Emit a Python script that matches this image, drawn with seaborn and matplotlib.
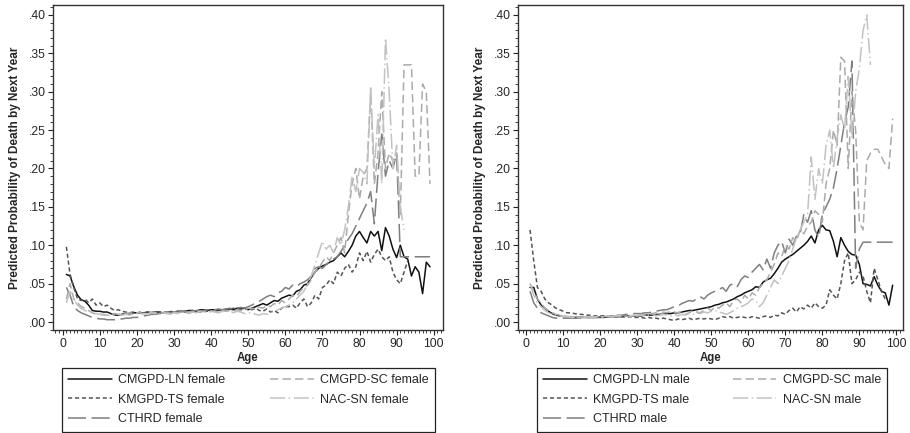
import numpy as np
import pandas as pd
import seaborn as sns
import matplotlib.pyplot as plt
from matplotlib.ticker import MultipleLocator, FuncFormatter

# predicted probability of death by next year, age 1 onward
ln_female = [.062, .060, .046, .035, .029, .027, .022, .015, .014, .014,
             .013, .013, .011, .009, .009, .010, .011, .010, .012, .012,
             .012, .012, .013, .012, .013, .013, .012, .013, .013, .013,
             .014, .014, .014, .015, .015, .014, .016, .016, .015, .016,
             .016, .015, .016, .016, .017, .016, .018, .017, .018, .016,
             .018, .020, .022, .024, .022, .025, .028, .027, .031, .033,
             .035, .034, .040, .042, .048, .050, .058, .065, .070, .073,
             .075, .078, .080, .085, .090, .085, .092, .100, .112, .118,
             .110, .103, .118, .112, .118, .093, .123, .112, .095, .084,
             .100, .085, .082, .060, .072, .065, .037, .078, .072]
ts_female = [.098, .062, .045, .030, .028, .030, .025, .030, .022, .025,
             .020, .022, .018, .015, .016, .014, .013, .012, .013, .012,
             .013, .012, .013, .012, .014, .013, .012, .013, .014, .013,
             .012, .014, .013, .014, .015, .014, .013, .015, .014, .015,
             .014, .016, .015, .017, .016, .018, .017, .016, .018, .017,
             .016, .018, .015, .014, .017, .013, .015, .012, .018, .020,
             .020, .022, .018, .025, .030, .020, .025, .035, .030, .045,
             .048, .055, .050, .065, .060, .070, .075, .065, .072, .090,
             .080, .092, .078, .088, .095, .085, .080, .085, .065, .055,
             .050, .065, .080]
cthrd_female = [.045, .035, .020, .015, .012, .010, .008, .006, .005, .004,
                .004, .003, .003, .003, .004, .004, .005, .005, .006, .006,
                .007, .008, .009, .010, .010, .011, .012, .012, .012, .013,
                .013, .013, .014, .014, .014, .015, .015, .015, .016, .016,
                .016, .017, .016, .017, .018, .017, .018, .019, .018, .020,
                .022, .025, .027, .030, .033, .035, .033, .038, .040, .045,
                .043, .048, .046, .050, .052, .055, .060, .070, .072, .070,
                .075, .078, .082, .085, .092, .100, .108, .115, .125, .135,
                .145, .155, .170, .128, .195, .245, .190, .210, .200, .220,
                .085, .085, .085, .085, .085, .085, .085, .085, .085]
sc_female = [.030, .050, .030, .025, .020, .018, .015, .012, .010, .010,
             .010, .009, .010, .011, .010, .011, .011, .012, .011, .012,
             .012, .011, .012, .013, .012, .013, .012, .013, .012, .013,
             .012, .013, .014, .012, .013, .014, .013, .014, .013, .014,
             .014, .013, .015, .014, .015, .014, .016, .015, .016, .018,
             .017, .020, .019, .018, .022, .020, .024, .022, .028, .025,
             .030, .035, .033, .040, .045, .048, .055, .065, .070, .078,
             .085, .080, .090, .100, .110, .090, .140, .180, .200, .160,
             .190, .200, .300, .180, .220, .300, .200, .220, .210, .220,
             .140, .335, .335, .335, .190, .190, .310, .300, .180]
nac_female = [.025, .040, .030, .022, .018, .015, .013, .012, .011, .010,
              .009, .009, .008, .009, .010, .009, .010, .009, .010, .011,
              .010, .011, .010, .012, .011, .010, .012, .011, .010, .012,
              .011, .013, .012, .011, .013, .012, .014, .013, .012, .014,
              .013, .012, .014, .013, .015, .012, .014, .013, .011, .012,
              .012, .010, .009, .011, .010, .012, .014, .016, .018, .020,
              .022, .025, .030, .035, .040, .050, .060, .075, .090, .105,
              .095, .100, .090, .110, .100, .120, .150, .190, .170, .200,
              .195, .180, .305, .200, .270, .180, .370, .300, .200, .230,
              .150, .120]

ln_male = [.045, .045, .030, .022, .018, .014, .011, .009, .008, .007,
           .007, .006, .006, .006, .006, .006, .006, .006, .006, .006,
           .006, .007, .007, .007, .007, .007, .008, .008, .008, .008,
           .008, .009, .009, .009, .009, .010, .010, .011, .011, .012,
           .012, .013, .014, .015, .015, .016, .017, .018, .019, .020,
           .022, .023, .025, .026, .028, .030, .033, .035, .038, .040,
           .042, .046, .045, .052, .055, .057, .063, .070, .078, .082,
           .085, .088, .092, .096, .100, .105, .112, .103, .120, .126,
           .120, .119, .105, .085, .110, .100, .092, .088, .087, .075,
           .050, .049, .047, .059, .048, .040, .038, .022, .048]
ts_male = [.120, .080, .045, .040, .030, .025, .022, .018, .016, .014,
           .012, .012, .011, .010, .010, .009, .009, .008, .008, .008,
           .008, .007, .008, .007, .007, .007, .006, .007, .006, .006,
           .006, .005, .006, .005, .005, .004, .005, .004, .003, .002,
           .004, .003, .004, .005, .003, .004, .005, .004, .005, .004,
           .003, .005, .007, .006, .007, .005, .006, .007, .006, .005,
           .007, .006, .005, .007, .008, .006, .009, .008, .012, .010,
           .015, .018, .013, .020, .017, .022, .018, .025, .020, .018,
           .022, .042, .035, .030, .050, .080, .090, .050, .055, .065,
           .060, .040, .025, .070, .055, .040, .030]
cthrd_male = [.040, .025, .018, .012, .010, .008, .006, .005, .005, .005,
              .005, .005, .005, .005, .005, .006, .006, .006, .006, .007,
              .007, .008, .008, .008, .009, .009, .010, .010, .011, .011,
              .011, .012, .012, .013, .014, .015, .016, .016, .018, .020,
              .021, .024, .026, .028, .027, .030, .033, .030, .035, .038,
              .040, .042, .045, .040, .048, .050, .046, .055, .060, .058,
              .065, .070, .075, .068, .082, .070, .090, .100, .105, .090,
              .108, .100, .112, .115, .140, .130, .145, .120, .110, .140,
              .150, .160, .175, .200, .230, .260, .280, .340, .070, .095,
              .104, .104, .104, .104, .104, .104, .104, .104, .104]
sc_male = [.050, .040, .030, .025, .018, .015, .012, .010, .009, .008,
           .007, .007, .006, .006, .006, .007, .006, .007, .007, .006,
           .007, .008, .007, .008, .007, .008, .008, .007, .008, .009,
           .010, .009, .010, .011, .012, .010, .013, .012, .014, .013,
           .012, .014, .010, .012, .015, .013, .012, .015, .018, .015,
           .020, .018, .022, .025, .020, .028, .030, .025, .035, .030,
           .038, .035, .045, .050, .055, .065, .075, .090, .085, .100,
           .095, .110, .105, .120, .115, .125, .130, .145, .140, .130,
           .180, .200, .250, .230, .345, .340, .200, .300, .250, .130,
           .120, .210, .220, .225, .225, .215, .205, .200, .265]
nac_male = [.050, .035, .025, .020, .015, .012, .010, .009, .008, .007,
            .007, .006, .006, .005, .006, .006, .007, .006, .007, .006,
            .007, .008, .007, .008, .009, .008, .007, .008, .009, .008,
            .009, .008, .009, .010, .008, .009, .010, .009, .008, .010,
            .008, .010, .009, .011, .010, .012, .011, .013, .012, .014,
            .015, .013, .012, .010, .012, .015, .018, .020, .022, .025,
            .030, .028, .020, .025, .035, .045, .055, .050, .060, .070,
            .080, .095, .110, .120, .130, .140, .215, .160, .200, .180,
            .230, .250, .200, .240, .270, .250, .320, .240, .300, .330,
            .380, .400, .335]

sources = ['CMGPD-LN', 'KMGPD-TS', 'CTHRD', 'CMGPD-SC', 'NAC-SN']
colors = {'CMGPD-LN': '#111111', 'KMGPD-TS': '#555555', 'CTHRD': '#7f7f7f',
          'CMGPD-SC': '#ababab', 'NAC-SN': '#c2c2c2'}
styles = {'CMGPD-LN': '-', 'KMGPD-TS': (0, (3, 2)), 'CTHRD': (0, (13, 4)),
          'CMGPD-SC': (0, (6, 3)), 'NAC-SN': (0, (11, 2.5, 1, 2.5))}


def long_frame(series):
    rows = []
    for src, vals in series.items():
        for i, v in enumerate(vals):
            rows.append((i + 1, v, src))
    return pd.DataFrame(rows, columns=['age', 'prob', 'source'])


sns.set_style('ticks')
plt.rcParams['font.family'] = ['Liberation Sans', 'DejaVu Sans']
plt.rcParams['lines.scale_dashes'] = False

fig = plt.figure(figsize=(9.1, 4.33), dpi=100)
ax_f = fig.add_axes([53 / 910, 1 - 330 / 433, 390 / 910, 325 / 433])
ax_m = fig.add_axes([518 / 910, 1 - 330 / 433, 385 / 910, 325 / 433])

panels = [
    (ax_f, 'female', long_frame({'CMGPD-LN': ln_female, 'KMGPD-TS': ts_female, 'CTHRD': cthrd_female,
                                 'CMGPD-SC': sc_female, 'NAC-SN': nac_female}),
     (-2.6, 102.5), (62 / 910, 0.0069, 373 / 910, 0.1432)),
    (ax_m, 'male', long_frame({'CMGPD-LN': ln_male, 'KMGPD-TS': ts_male, 'CTHRD': cthrd_male,
                               'CMGPD-SC': sc_male, 'NAC-SN': nac_male}),
     (-2.25, 101.8), (537 / 910, 0.0069, 350 / 910, 0.1432)),
]

for ax, sex, df, xlim, leg_box in panels:
    for src in sources:
        sns.lineplot(data=df[df['source'] == src], x='age', y='prob', ax=ax,
                     color=colors[src], linestyle=styles[src], lw=1.1,
                     errorbar=None, label=f'{src} {sex}', legend=False)

    ax.set_xlim(*xlim)
    ax.set_ylim(-0.0104, 0.413)
    ax.xaxis.set_major_locator(MultipleLocator(10))
    ax.xaxis.set_minor_locator(MultipleLocator(1))
    ax.yaxis.set_major_locator(MultipleLocator(0.05))
    ax.yaxis.set_minor_locator(MultipleLocator(0.01))
    ax.yaxis.set_major_formatter(FuncFormatter(lambda v, p: f'{v:.2f}'.lstrip('0')))
    ax.tick_params(which='major', direction='out', length=3.5, width=0.8,
                   color='#222222', labelsize=8.7, pad=1.5)
    ax.tick_params(which='minor', direction='out', length=2, width=0.6, color='#222222')
    ax.tick_params(axis='x', which='major', pad=2.5)
    for s in ax.spines.values():
        s.set_visible(True)
        s.set_color('#333333')
        s.set_linewidth(1.0)
    ax.set_xlabel('Age', fontsize=8.3, fontweight='bold', labelpad=1)
    ax.set_ylabel('Predicted Probability of Death by Next Year', fontsize=8.5,
                  fontweight='bold', labelpad=6)

    handles, labels = ax.get_legend_handles_labels()
    leg = ax.legend(handles, labels, ncol=2, loc='upper left', mode='expand',
                    bbox_to_anchor=leg_box, bbox_transform=fig.transFigure,
                    fontsize=9, frameon=True, fancybox=False, framealpha=1,
                    edgecolor='#222222', handlelength=3.5, handletextpad=0.5,
                    labelspacing=0.6, borderpad=0.5, borderaxespad=0)
    leg.get_frame().set_linewidth(0.9)

fig.savefig('out.png', dpi=100)
